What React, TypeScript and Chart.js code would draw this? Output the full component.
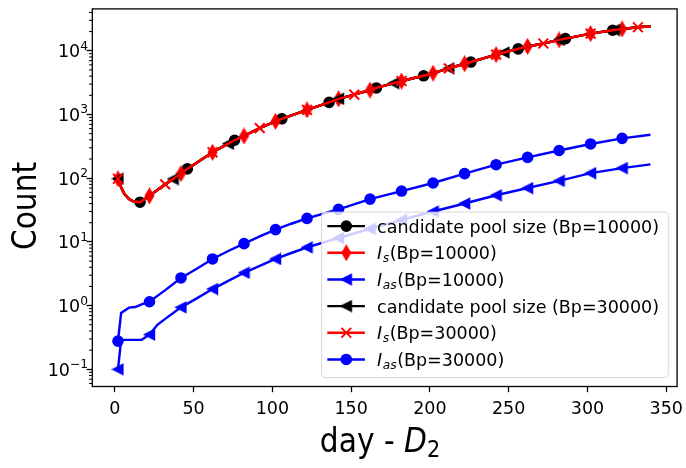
import React, { useEffect, useRef } from "react";
import { Chart, registerables } from "chart.js";

Chart.register(...registerables);

// ---------------- data ----------------
const xTickValues = [0, 50, 100, 150, 200, 250, 300, 350];
const yTickValues = [0.1, 1, 10, 100, 1000, 10000];
const yTickBase = "10";
const yTickExponents = ["−1", "0", "1", "2", "3", "4"];

// candidate pool size and I_s curves coincide in the picture (both Bp values)
const upperDays = [2, 4, 6, 9, 12, 16, 22, 32, 37, 42, 46, 62, 72, 76, 82, 92, 102, 106, 122, 136, 142, 152, 162, 166, 177, 182, 196, 202, 212, 222, 226, 242, 247, 256, 262, 272, 282, 286, 302, 316, 317, 322, 332, 340];
const candidatePoolCounts = [98, 72, 57, 47, 43, 42, 53, 80, 97, 118, 140, 255, 348, 394, 460, 611, 780, 855, 1180, 1550, 1760, 2050, 2420, 2610, 3100, 3350, 4050, 4450, 5300, 6250, 6650, 8700, 9400, 10700, 11700, 13000, 14800, 15500, 18600, 21000, 21150, 22000, 23400, 24200];
const isCounts = [98, 72, 57, 47, 43, 42, 53, 80, 97, 118, 140, 255, 348, 394, 460, 611, 780, 855, 1180, 1550, 1760, 2050, 2420, 2610, 3100, 3350, 4050, 4450, 5300, 6250, 6650, 8700, 9400, 10700, 11700, 13000, 14800, 15500, 18600, 21000, 21150, 22000, 23400, 24200];

const iasB10Days = [2, 4, 17, 22, 27, 32, 42, 52, 62, 72, 82, 92, 102, 112, 122, 142, 162, 182, 202, 222, 242, 262, 282, 302, 322, 340];
const iasB10Counts = [0.1, 0.29, 0.29, 0.35, 0.5, 0.62, 0.94, 1.3, 1.82, 2.45, 3.28, 4.2, 5.4, 6.7, 8.2, 11.5, 16, 22.2, 30, 40, 53.9, 70, 90.8, 120, 144, 165];

const iasB30Days = [2, 4, 9, 13, 17, 22, 32, 42, 52, 62, 72, 82, 92, 102, 112, 122, 142, 162, 182, 202, 222, 242, 262, 282, 302, 322, 340];
const iasB30Counts = [0.277, 0.77, 0.93, 0.95, 1.05, 1.15, 1.75, 2.72, 3.8, 5.4, 7.2, 9.4, 12.2, 15.6, 19.3, 23.4, 32.5, 47, 62.8, 84, 118, 163, 212, 272, 345, 422, 481];

// days carrying a marker for each series
const poolB10MarkerDays = [16, 46, 76, 106, 136, 166, 196, 226, 256, 286, 316];
const isB10MarkerDays = [2, 22, 42, 62, 82, 102, 122, 142, 162, 182, 202, 222, 242, 262, 282, 302, 322];
const iasB10MarkerDays = [2, 22, 42, 62, 82, 102, 122, 142, 162, 182, 202, 222, 242, 262, 282, 302, 322];
const poolB30MarkerDays = [2, 37, 72, 107, 142, 177, 212, 247, 282, 317];
const isB30MarkerDays = [2, 32, 62, 92, 122, 152, 182, 212, 242, 272, 302, 332];
const iasB30MarkerDays = [2, 22, 42, 62, 82, 102, 122, 142, 162, 182, 202, 222, 242, 262, 282, 302, 322];

type LegendLabel = { plain?: string; italic?: string; sub?: string; rest?: string };
const legendLabels: LegendLabel[] = [
  { plain: "candidate pool size (Bp=10000)" },
  { italic: "I", sub: "s", rest: "(Bp=10000)" },
  { italic: "I", sub: "as", rest: "(Bp=10000)" },
  { plain: "candidate pool size (Bp=30000)" },
  { italic: "I", sub: "s", rest: "(Bp=30000)" },
  { italic: "I", sub: "as", rest: "(Bp=30000)" },
];

// ---------------- styling ----------------
const BLACK = "#000000";
const RED = "#ff0000";
const BLUE = "#0000ff";
const LINE_W = 2.45;
const EDGE_W = 1.6;
const FONT = '"DejaVu Sans", sans-serif';
const TICK_FS = 17.5;

function makeLeftTriangle(color: string) {
  const size = 9.8;
  const c = document.createElement("canvas");
  c.width = 13;
  c.height = 13;
  const g = c.getContext("2d")!;
  const m = 6.5;
  const h = size / 2;
  g.beginPath();
  g.moveTo(m - h, m);
  g.lineTo(m + h, m - h);
  g.lineTo(m + h, m + h);
  g.closePath();
  g.fillStyle = color;
  g.fill();
  g.strokeStyle = color;
  g.lineWidth = EDGE_W;
  g.lineJoin = "miter";
  g.stroke();
  return c;
}

function makeThinDiamond(color: string) {
  const hh = 6.95;
  const hw = 4.15;
  const c = document.createElement("canvas");
  c.width = 11;
  c.height = 17;
  const g = c.getContext("2d")!;
  const cx = 5.5, cy = 8.5;
  g.beginPath();
  g.moveTo(cx, cy - hh);
  g.lineTo(cx + hw, cy);
  g.lineTo(cx, cy + hh);
  g.lineTo(cx - hw, cy);
  g.closePath();
  g.fillStyle = color;
  g.fill();
  g.strokeStyle = color;
  g.lineWidth = EDGE_W;
  g.stroke();
  return c;
}

const pts = (days: number[], vals: number[]) => days.map((d, i) => ({ x: d, y: vals[i] }));

const setStretch = (ctx: any, v: string) => {
  try { ctx.fontStretch = v; } catch (e) {}
};

export default function App() {
  const ref = useRef<HTMLCanvasElement | null>(null);

  useEffect(() => {
    document.body.style.margin = "0";
    const canvas = ref.current!;
    const triBlack = makeLeftTriangle(BLACK);
    const triBlue = makeLeftTriangle(BLUE);
    const diaRed = makeThinDiamond(RED);

    type Spec = {
      days: number[];
      vals: number[];
      markers: number[];
      color: string;
      style: any;
      radius: number;
      bw: number;
    };
    const specs: Spec[] = [
      { days: upperDays, vals: candidatePoolCounts, markers: poolB10MarkerDays, color: BLACK, style: "circle", radius: 5, bw: EDGE_W },
      { days: upperDays, vals: isCounts, markers: isB10MarkerDays, color: RED, style: diaRed, radius: 5, bw: EDGE_W },
      { days: iasB10Days, vals: iasB10Counts, markers: iasB10MarkerDays, color: BLUE, style: triBlue, radius: 5, bw: EDGE_W },
      { days: upperDays, vals: candidatePoolCounts, markers: poolB30MarkerDays, color: BLACK, style: triBlack, radius: 5, bw: EDGE_W },
      { days: upperDays, vals: isCounts, markers: isB30MarkerDays, color: RED, style: "crossRot", radius: 6.9, bw: 2 },
      { days: iasB30Days, vals: iasB30Counts, markers: iasB30MarkerDays, color: BLUE, style: "circle", radius: 5, bw: EDGE_W },
    ];

    const datasets = specs.map((s, i) => ({
      label: "s" + i,
      data: pts(s.days, s.vals),
      borderColor: s.color,
      backgroundColor: s.color,
      borderWidth: LINE_W,
      pointStyle: s.style,
      pointBackgroundColor: s.color,
      pointBorderColor: s.color,
      pointBorderWidth: s.bw,
      pointRadius: (ctx: any) => (ctx.raw && s.markers.includes(ctx.raw.x) ? s.radius : 0),
      pointHoverRadius: 0,
      tension: 0,
      order: specs.length - i,
      clip: 8,
    }));

    const drawMarker = (ctx: CanvasRenderingContext2D, s: Spec, x: number, y: number) => {
      if (typeof s.style !== "string") {
        ctx.drawImage(s.style, x - s.style.width / 2, y - s.style.height / 2);
      } else if (s.style === "circle") {
        ctx.beginPath();
        ctx.arc(x, y, s.radius, 0, Math.PI * 2);
        ctx.fillStyle = s.color;
        ctx.fill();
        ctx.lineWidth = s.bw;
        ctx.strokeStyle = s.color;
        ctx.stroke();
      } else {
        const o = s.radius * Math.SQRT1_2;
        ctx.beginPath();
        ctx.moveTo(x - o, y - o);
        ctx.lineTo(x + o, y + o);
        ctx.moveTo(x + o, y - o);
        ctx.lineTo(x - o, y + o);
        ctx.lineWidth = s.bw;
        ctx.strokeStyle = s.color;
        ctx.stroke();
      }
    };

    const decor = {
      id: "decor",
      afterDraw(chart: any) {
        const { ctx, chartArea } = chart;
        const yScale = chart.scales.y;
        ctx.save();
        // minor y ticks
        ctx.strokeStyle = BLACK;
        ctx.lineWidth = 1;
        for (let k = -2; k <= 4; k++) {
          for (let m = 2; m <= 9; m++) {
            const v = m * Math.pow(10, k);
            if (v < yScale.min || v > yScale.max) continue;
            const py = yScale.getPixelForValue(v);
            ctx.beginPath();
            ctx.moveTo(chartArea.left - 3.3, py);
            ctx.lineTo(chartArea.left, py);
            ctx.stroke();
          }
        }
        // y tick labels 10^k
        ctx.fillStyle = BLACK;
        ctx.textBaseline = "alphabetic";
        ctx.textAlign = "left";
        yTickValues.forEach((v, i) => {
          const py = yScale.getPixelForValue(v);
          const base = py + 0.729 * TICK_FS / 2;
          ctx.font = `${TICK_FS * 0.7}px ${FONT}`;
          const we = ctx.measureText(yTickExponents[i]).width;
          ctx.font = `${TICK_FS}px ${FONT}`;
          const wb = ctx.measureText(yTickBase).width;
          const right = 88;
          const x0 = right - we - wb;
          ctx.fillText(yTickBase, x0, base);
          ctx.font = `${TICK_FS * 0.7}px ${FONT}`;
          ctx.fillText(yTickExponents[i], x0 + wb, base - 7.5);
        });

        // frame
        ctx.lineWidth = 1.3;
        ctx.strokeStyle = BLACK;
        ctx.strokeRect(chartArea.left, chartArea.top, chartArea.right - chartArea.left, chartArea.bottom - chartArea.top);

        // legend
        const fs = 17.5;
        const w = 346.7, h = 165.6;
        const x0 = chartArea.right - 8.8 - w;
        const y0 = chartArea.bottom - 8.8 - h;
        const r = 3.5;
        ctx.beginPath();
        ctx.moveTo(x0 + r, y0);
        ctx.lineTo(x0 + w - r, y0);
        ctx.arcTo(x0 + w, y0, x0 + w, y0 + r, r);
        ctx.lineTo(x0 + w, y0 + h - r);
        ctx.arcTo(x0 + w, y0 + h, x0 + w - r, y0 + h, r);
        ctx.lineTo(x0 + r, y0 + h);
        ctx.arcTo(x0, y0 + h, x0, y0 + h - r, r);
        ctx.lineTo(x0, y0 + r);
        ctx.arcTo(x0, y0, x0 + r, y0, r);
        ctx.closePath();
        ctx.fillStyle = "rgba(255,255,255,0.8)";
        ctx.fill();
        ctx.strokeStyle = "rgba(204,204,204,0.8)";
        ctx.lineWidth = 1;
        ctx.stroke();

        specs.forEach((s, i) => {
          const cy = y0 + 14 + i * 26.67;
          ctx.beginPath();
          ctx.moveTo(x0 + 5.7, cy);
          ctx.lineTo(x0 + 43.3, cy);
          ctx.strokeStyle = s.color;
          ctx.lineWidth = LINE_W;
          ctx.stroke();
          drawMarker(ctx, s, x0 + 24.7, cy);

          const lab = legendLabels[i];
          const base = cy + 6.4;
          let tx = x0 + 55.5;
          ctx.fillStyle = BLACK;
          ctx.textAlign = "left";
          ctx.textBaseline = "alphabetic";
          if (lab.plain) {
            ctx.font = `${fs}px ${FONT}`;
            ctx.fillText(lab.plain, tx, base);
          } else {
            ctx.font = `italic ${fs}px ${FONT}`;
            ctx.fillText(lab.italic!, tx, base);
            tx += ctx.measureText(lab.italic!).width + 0.5;
            ctx.font = `italic ${fs * 0.7}px ${FONT}`;
            ctx.fillText(lab.sub!, tx, base + 3);
            tx += ctx.measureText(lab.sub!).width + 0.5;
            ctx.font = `${fs}px ${FONT}`;
            ctx.fillText(lab.rest!, tx, base);
          }
        });

        // axis titles
        const tfs = 33;
        ctx.fillStyle = BLACK;
        ctx.save();
        ctx.translate(35.5, 206);
        ctx.rotate(-Math.PI / 2);
        ctx.font = `${tfs}px ${FONT}`;
        setStretch(ctx, "condensed");
        ctx.textAlign = "center";
        ctx.textBaseline = "alphabetic";
        ctx.fillText("Count", 0, 0);
        ctx.restore();

        ctx.textAlign = "left";
        ctx.textBaseline = "alphabetic";
        const p1 = "day - ";
        ctx.font = `${tfs}px ${FONT}`;
        setStretch(ctx, "condensed");
        const w1 = ctx.measureText(p1).width;
        ctx.font = `italic ${tfs}px ${FONT}`;
        setStretch(ctx, "condensed");
        const w2 = ctx.measureText("D").width;
        ctx.font = `${tfs * 0.7}px ${FONT}`;
        setStretch(ctx, "condensed");
        const w3 = ctx.measureText("2").width;
        const total = w1 + w2 + w3;
        let xx = 380 - total / 2;
        const by = 452;
        ctx.font = `${tfs}px ${FONT}`;
        setStretch(ctx, "condensed");
        ctx.fillText(p1, xx, by);
        xx += w1;
        ctx.font = `italic ${tfs}px ${FONT}`;
        setStretch(ctx, "condensed");
        ctx.fillText("D", xx, by);
        xx += w2;
        ctx.font = `${tfs * 0.7}px ${FONT}`;
        setStretch(ctx, "condensed");
        ctx.fillText("2", xx, by + 5);
        setStretch(ctx, "normal");
        ctx.restore();
      },
    };

    const chart = new Chart(canvas, {
      type: "line",
      data: { datasets: datasets as any },
      plugins: [decor],
      options: {
        animation: false,
        responsive: false,
        devicePixelRatio: 1,
        events: [],
        layout: { padding: { top: 4.5, right: 4.5, left: 0, bottom: 0 } },
        plugins: { legend: { display: false }, tooltip: { enabled: false } },
        scales: {
          x: {
            type: "linear",
            min: -14.3,
            max: 356.9,
            afterBuildTicks: (s: any) => {
              s.ticks = xTickValues.map((v) => ({ value: v }));
            },
            afterFit: (s: any) => {
              s.height = 468 - 386.5;
              s.paddingLeft = 0;
              s.paddingRight = 0;
            },
            border: { display: false },
            grid: {
              drawOnChartArea: false,
              drawTicks: true,
              tickLength: 5.7,
              tickColor: BLACK,
              tickWidth: 1.3,
            },
            ticks: {
              autoSkip: false,
              maxRotation: 0,
              padding: 7,
              color: BLACK,
              font: { family: FONT, size: TICK_FS },
              callback: (v: any) => String(v),
            },
          },
          y: {
            type: "logarithmic",
            min: 0.0538,
            max: 45400,
            afterBuildTicks: (s: any) => {
              s.ticks = yTickValues.map((v) => ({ value: v }));
            },
            afterFit: (s: any) => {
              s.width = 92.3;
              s.paddingTop = 0;
              s.paddingBottom = 0;
            },
            border: { display: false },
            grid: {
              drawOnChartArea: false,
              drawTicks: true,
              tickLength: 5.7,
              tickColor: BLACK,
              tickWidth: 1.3,
            },
            ticks: {
              display: false,
              autoSkip: false,
            },
          },
        },
      },
    });
    return () => chart.destroy();
  }, []);

  return (
    <canvas
      ref={ref}
      width={686}
      height={468}
      style={{ display: "block", width: 686, height: 468 }}
    />
  );
}
